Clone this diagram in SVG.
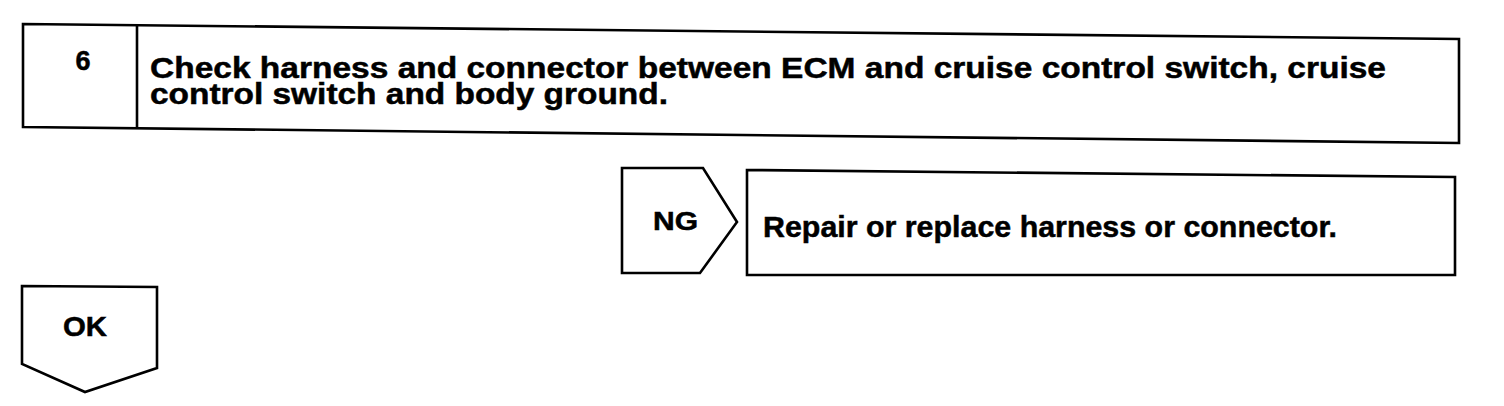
<svg xmlns="http://www.w3.org/2000/svg" width="1504" height="406" viewBox="0 0 1504 406">
<style>
.box{fill:#fff;stroke:#000;stroke-width:2.6;stroke-linejoin:miter}
.t{font-family:"Liberation Sans",Arial,sans-serif;font-weight:bold;fill:#000;stroke:#000;stroke-width:0.5}
</style>
<rect width="1504" height="406" fill="#fff"/>
<g id="step6">
<polygon class="box" points="23,24 1459,39 1459,143 23,127"/>
<line x1="137" y1="25" x2="137" y2="128" stroke="#000" stroke-width="2.6"/>
<text class="t" x="83" y="70" font-size="27" text-anchor="middle">6</text>
<text class="t" font-size="30"><tspan x="150" y="78" textLength="1236" lengthAdjust="spacingAndGlyphs">Check harness and connector between ECM and cruise control switch, cruise</tspan><tspan x="150" y="104" textLength="518" lengthAdjust="spacingAndGlyphs">control switch and body ground.</tspan></text>
</g>
<g id="ng">
<polygon class="box" points="622,168 703,168 737,222 700,273 622,273"/>
<text class="t" x="653" y="230" font-size="25" textLength="45" lengthAdjust="spacingAndGlyphs">NG</text>
</g>
<g id="repair">
<polygon class="box" points="747,170 1455,177 1455,275 747,275"/>
<text class="t" x="763" y="237" font-size="30" textLength="574" lengthAdjust="spacingAndGlyphs">Repair or replace harness or connector.</text>
</g>
<g id="ok">
<polygon class="box" points="22,286 157,287 157,368 85,392 22,364"/>
<text class="t" x="63" y="336" font-size="28" textLength="44" lengthAdjust="spacingAndGlyphs">OK</text>
</g>
<g id="connectors"></g>
</svg>
